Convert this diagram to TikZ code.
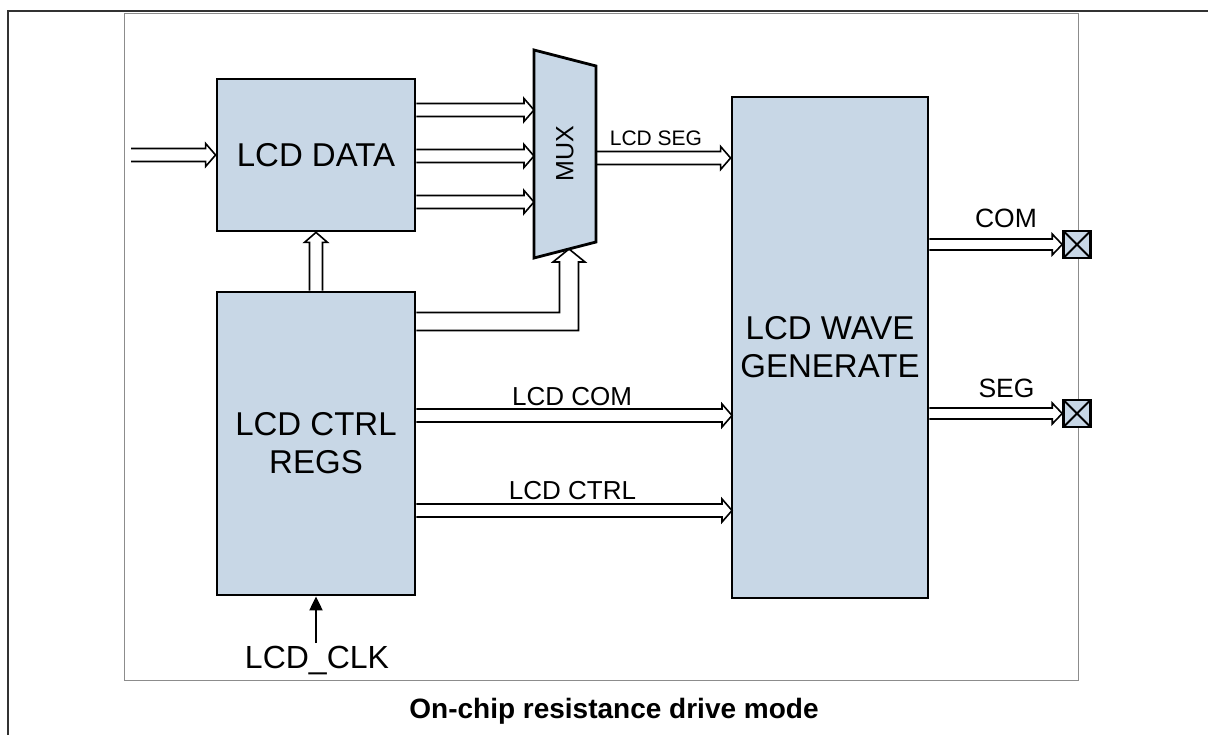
\documentclass[tikz,border=0pt]{standalone}
\usepackage{fontspec}
\setmainfont{Liberation Sans}
\usetikzlibrary{calc,arrows.meta}
\definecolor{boxblue}{RGB}{200,215,230}
\definecolor{framegray}{RGB}{140,140,140}
\definecolor{outerdark}{RGB}{50,50,50}
\def\busW{6.5}
\def\busH{11.5}
\def\busL{10}
\tikzset{
  blk/.style={draw, line width=2.8pt, fill=boxblue, align=center, inner sep=0pt,
    font=\fontsize{33}{38}\selectfont},
  busline/.style={draw, line width=1.6pt, line join=miter},
  hbus/.style={busline, to path={
    ($(\tikztostart)+(0,\busW)$) -- ($(\tikztotarget)+(-\busL,\busW)$) --
    ($(\tikztotarget)+(-\busL,\busH)$) -- (\tikztotarget) --
    ($(\tikztotarget)+(-\busL,-\busH)$) -- ($(\tikztotarget)+(-\busL,-\busW)$) --
    ($(\tikztostart)+(0,-\busW)$)}},
  vbus/.style={busline, to path={
    ($(\tikztostart)+(-\busW,0)$) -- ($(\tikztotarget)+(-\busW,\busL)$) --
    ($(\tikztotarget)+(-\busH,\busL)$) -- (\tikztotarget) --
    ($(\tikztotarget)+(\busH,\busL)$) -- ($(\tikztotarget)+(\busW,\busL)$) --
    ($(\tikztostart)+(\busW,0)$)}},
  pad/.style={draw, line width=2.6pt, fill=boxblue, minimum size=27pt, inner sep=0pt,
    path picture={\draw[line width=1.8pt] (path picture bounding box.north west) -- (path picture bounding box.south east)
      (path picture bounding box.north east) -- (path picture bounding box.south west);}},
  lbl/.style={anchor=base, inner sep=0pt, font=\fontsize{26}{30}\selectfont},
}
\begin{document}
\begin{tikzpicture}[x=1pt, y=-1pt]
\useasboundingbox (0,0) rectangle (1208,735);
% frames
\draw[outerdark, line width=1.5pt] (1208,11) -- (8,11) -- (8,735);
\draw[framegray, line width=1pt] (124,14) rectangle (1078,680);

% blocks
\node[blk, minimum width=198pt, minimum height=152pt] (data) at (316,155) {LCD DATA};
\node[blk, minimum width=198pt, minimum height=303pt] (regs) at (316,443.5) {LCD CTRL\\REGS};
\node[blk, minimum width=196pt, minimum height=501pt] (wave) at (830,347.5) {LCD WAVE\\GENERATE};

% MUX
\draw[blk] (534,50) -- (596,66) -- (596,242) -- (534,258) -- cycle;
\node[rotate=90, inner sep=0pt, font=\fontsize{25}{28}\selectfont] (mux) at (565,154) {MUX};
\coordinate (m1) at (534,110);
\coordinate (m2) at (534,156);
\coordinate (m3) at (534,202);
\coordinate (muxE) at (596,158);
\coordinate (msel) at (569,249);
\coordinate (selA) at (569,321.5);

% input bus
\coordinate (in) at (131,155);
\draw[hbus] (in) to (data.west);

% data -> mux
\draw[hbus] (data.east |- m1) to (m1);
\draw[hbus] (data.east |- m2) to (m2);
\draw[hbus] (data.east |- m3) to (m3);

% mux -> wave
\draw[hbus] (muxE) to (wave.west |- muxE);
\node[lbl, font=\fontsize{21}{24}\selectfont] (lseg) at (656,146) {LCD SEG};

% regs -> data
\draw[vbus] (regs.north) to (data.south);

% regs -> mux select
\draw[busline] ($(regs.east|-selA)+(0,-9)$) -- ($(selA)+(-9.5,-9)$) -- ($(msel)+(-9.5,13)$) --
  ($(msel)+(-16,13)$) -- (msel) -- ($(msel)+(16,13)$) -- ($(msel)+(9.5,13)$) --
  ($(selA)+(9.5,9)$) -- ($(regs.east|-selA)+(0,9)$);

% regs -> wave
\coordinate (wcom) at (732,415.5);
\coordinate (wctl) at (732,510.5);
\draw[hbus] (regs.east |- wcom) to (wcom);
\draw[hbus] (regs.east |- wctl) to (wctl);
\node[lbl] (lcom) at (572,405) {LCD COM};
\node[lbl] (lctl) at (572.5,499) {LCD CTRL};

% outputs
\node[pad] (padc) at (1077,244.5) {};
\node[pad] (pads) at (1077,413.5) {};
\begingroup
\def\busW{5.5}\def\busH{10.5}
\draw[hbus] (wave.east |- padc) to (padc.west);
\draw[hbus] (wave.east |- pads) to (pads.west);
\endgroup
\node[lbl, font=\fontsize{26.5}{30}\selectfont] (lcomo) at (1006,228) {COM};
\node[lbl, font=\fontsize{26.5}{30}\selectfont] (lsego) at (1006.5,397) {SEG};

% clock
\node[lbl, font=\fontsize{32}{38}\selectfont] (clk) at (317,668) {LCD\_CLK};
\coordinate (clkb) at (316,643);
\draw[line width=2pt, -{Triangle[length=14pt,width=13pt]}] (clkb) -- (regs.south);

% caption
\node[lbl, font=\fontsize{28}{32}\selectfont\bfseries] (cap) at (614,718) {On-chip resistance drive mode};
\end{tikzpicture}
\end{document}
